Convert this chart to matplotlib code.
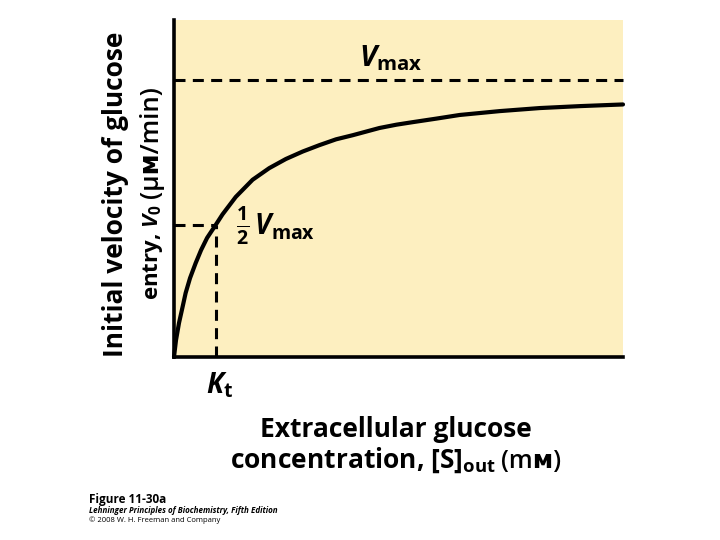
#!/usr/bin/env python3
"""Glucose transport kinetics (Lehninger Fig. 11-30a): V0 vs [S]out with Vmax and Kt marked."""

import matplotlib
matplotlib.use("Agg")
import matplotlib.pyplot as plt

FONT = "Open Sans"
plt.rcParams["font.family"] = [FONT, "DejaVu Sans"]
plt.rcParams["mathtext.fontset"] = "custom"
plt.rcParams["mathtext.rm"] = f"{FONT}:bold"
plt.rcParams["mathtext.bf"] = f"{FONT}:bold"
plt.rcParams["mathtext.it"] = f"{FONT}:italic:bold"

# curve: [S]out in mM (Kt ~ 1), V0 as a fraction of Vmax
s_out = [0.0, 0.05, 0.125, 0.225, 0.29, 0.40, 0.54, 0.675, 0.825, 1.04,
         1.21, 1.54, 1.96, 2.375, 2.79, 3.21, 3.625, 4.04, 4.46, 5.125,
         5.55, 5.95, 6.55, 7.125, 8.125, 9.125, 10.125, 11.2]
v0 = [0.0, 0.061, 0.123, 0.188, 0.231, 0.285, 0.339, 0.386, 0.430, 0.477,
      0.515, 0.578, 0.640, 0.682, 0.715, 0.742, 0.765, 0.786, 0.801, 0.827,
      0.839, 0.848, 0.861, 0.874, 0.888, 0.899, 0.906, 0.912]

V_MAX = 1.0
HALF_V = 0.477
K_T = 1.04
X_MAX = 11.2
Y_MAX = 1.217

BG = "#fdefc0"
INK = "#000000"

W, H = 720, 540


def fx(px):
    return px / W


def fy(py):
    return 1 - py / H


fig = plt.figure(figsize=(7.2, 5.4), dpi=100)
fig.patch.set_facecolor("white")
ax = fig.add_axes([fx(174), fy(357), (623 - 174) / W, (357 - 20) / H])
ax.set_facecolor(BG)
ax.set_xlim(0, X_MAX)
ax.set_ylim(0, Y_MAX)
for side in ("top", "right"):
    ax.spines[side].set_visible(False)
for side in ("left", "bottom"):
    ax.spines[side].set_color(INK)
    ax.spines[side].set_linewidth(2.6)
    ax.spines[side].set_capstyle("projecting")
ax.set_xticks([])
ax.set_yticks([])

dash = dict(color=INK, linewidth=2.2, dashes=(3.6, 2.4), clip_on=False)
ax.plot([0, X_MAX], [V_MAX, V_MAX], **dash)
ax.plot([0, K_T], [HALF_V, HALF_V], **dash)
ax.plot([K_T, K_T], [0, HALF_V], **dash)

ax.plot(s_out, v0, color=INK, linewidth=3.0, solid_capstyle="round",
        solid_joinstyle="round", clip_on=False)

ax.text(4.62, 1.08, r"$V_{\mathrm{max}}$", fontsize=21, ha="left", va="center")
ax.text(1.55, HALF_V - 0.005, r"$\frac{1}{2}\,V_{\mathrm{max}}$", fontsize=20,
        ha="left", va="center")

fig.text(fx(219), fy(385), r"$K_{\mathrm{t}}$", fontsize=20, ha="center", va="center")

# x-axis title
fig.text(fx(396), fy(437), "Extracellular glucose", fontsize=19, fontweight="bold",
         ha="center", va="baseline")
fig.text(fx(230), fy(468), r"concentration, [S]$_{\mathrm{out}}$", fontsize=19,
         fontweight="bold", ha="left", va="baseline")
fig.text(fx(561), fy(468), "(mᴍ)", fontsize=18, fontweight="semibold",
         ha="right", va="baseline")

# y-axis title, rotated pieces
fig.text(fx(123), fy(194), "Initial velocity of glucose", fontsize=19, fontweight="bold",
         rotation=90, rotation_mode="anchor", ha="center", va="baseline")
fig.text(fx(158), fy(300), r"entry, $V_0$", fontsize=16, fontweight="bold",
         rotation=90, rotation_mode="anchor", ha="left", va="baseline")
fig.text(fx(158), fy(198), "(μᴍ/min)", fontsize=18.5, fontweight="semibold",
         rotation=90, rotation_mode="anchor", ha="left", va="baseline")

# source credit
fig.text(fx(89), fy(503), "Figure 11-30a", fontsize=8.5, fontweight="bold",
         ha="left", va="baseline")
fig.text(fx(89), fy(513), "Lehninger Principles of Biochemistry, Fifth Edition",
         fontsize=5.8, fontweight="bold", fontstyle="italic", ha="left", va="baseline")
fig.text(fx(89), fy(522), "© 2008 W. H. Freeman and Company", fontsize=5.5,
         ha="left", va="baseline")

fig.savefig("out.png", dpi=100, facecolor=fig.get_facecolor())
